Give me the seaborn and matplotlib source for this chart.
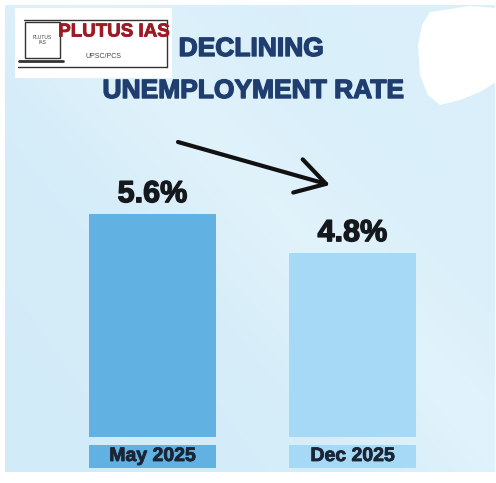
import numpy as np
import pandas as pd
import matplotlib
matplotlib.use("Agg")
import matplotlib.pyplot as plt
import matplotlib.patheffects as pe
import seaborn as sns
from matplotlib.patches import Rectangle, Polygon
from matplotlib.transforms import blended_transform_factory
from matplotlib.colors import to_rgb

# Data
periods = ["May 2025", "Dec 2025"]
rates = [5.6, 4.8]
bar_colors = ["#61b1e3", "#a5d9f5"]
title_lines = ["DECLINING", "UNEMPLOYMENT RATE"]

df = pd.DataFrame({"period": periods, "rate": rates})

sns.set_theme(style="white")
plt.rcParams["font.family"] = ["Liberation Sans", "DejaVu Sans"]

W, H = 496, 483
fig = plt.figure(figsize=(W / 100, H / 100), dpi=100, facecolor="white")


def fx(px):
    return px / W


def fy(py):
    return 1 - py / H


def heavy(color, w=0.9):
    return [pe.withStroke(linewidth=w, foreground=color)]


# Soft light-blue gradient panel behind the chart
bg = fig.add_axes([fx(5), fy(472), fx(490), (472 - 5) / H], zorder=0)
ny, nx = 200, 200
yy, xx = np.mgrid[0:1:complex(ny), 0:1:complex(nx)]
c_dark = np.array(to_rgb("#c9e7f7"))
c_light = np.array(to_rgb("#e6f5fc"))
diag = xx * 0.6 + (1 - yy) * 0.4
band = np.exp(-((xx - yy * 0.9 - 0.15) ** 2) / 0.05)
t = np.clip(0.3 + 0.35 * diag + 0.3 * band, 0, 1)
img = c_dark[None, None, :] * (1 - t[..., None]) + c_light[None, None, :] * t[..., None]
bg.imshow(img, aspect="auto", extent=[0, 1, 0, 1], origin="upper")
bg.set_axis_off()

# Main bar axes
ax = fig.add_axes([fx(5), fy(437), fx(490), (437 - 5) / H], zorder=2)
ax.patch.set_alpha(0)
bar_w = 0.635
sns.barplot(data=df, x="period", y="rate", hue="period", palette=bar_colors,
            legend=False, width=bar_w, saturation=1, linewidth=0,
            edgecolor="none", ax=ax)
ax.set_xlim(-0.7375, 1.7125)
ax.set_ylim(1.026, 9.888)
ax.set_axis_off()

for cont, v in zip(ax.containers, rates):
    ax.bar_label(cont, labels=[f"{v}%"], padding=3.5, fontsize=22,
                 fontweight="bold", color="#15181d",
                 path_effects=heavy("#15181d", 1.0))

# Category label boxes under each bar
trans = blended_transform_factory(ax.transData, fig.transFigure)
for i, (p, c) in enumerate(zip(periods, bar_colors)):
    ax.add_patch(Rectangle((i - bar_w / 2, fy(468)), bar_w, (468 - 445) / H,
                           transform=trans, facecolor=c, edgecolor="none",
                           clip_on=False, zorder=3))
    ax.text(i, fy(456.5), p, transform=trans, ha="center", va="center",
            fontsize=14, fontweight="bold", color="#1b2535", zorder=4,
            path_effects=heavy("#1b2535", 0.6))

# Title
fig.text(fx(251), fy(49), title_lines[0], ha="center", va="center",
         fontsize=19, fontweight="bold", color="#1f3d6e", zorder=5,
         path_effects=heavy("#1f3d6e", 1.0))
fig.text(fx(253), fy(91), title_lines[1], ha="center", va="center",
         fontsize=19, fontweight="bold", color="#1f3d6e", zorder=5,
         path_effects=heavy("#1f3d6e", 1.0))

# Downward trend arrow
ax.annotate("", xy=(fx(330), fy(185)), xytext=(fx(178), fy(142)),
            xycoords="figure fraction", textcoords="figure fraction",
            arrowprops=dict(arrowstyle="->, head_length=1.05, head_width=0.62",
                            color="#111111", lw=3.0, mutation_scale=20,
                            shrinkA=0, shrinkB=0),
            zorder=6, annotation_clip=False)

# White blob top right
blob = [(430, 12), (470, 6), (496, 8), (496, 82), (480, 92), (460, 100),
        (440, 105), (428, 95), (420, 75), (418, 45), (422, 25)]
fig.add_artist(Polygon([(fx(x), fy(y)) for x, y in blob], closed=True,
                       transform=fig.transFigure, facecolor="white",
                       edgecolor="none", zorder=4))

# Logo block
fig.add_artist(Rectangle((fx(15), fy(78)), fx(157), (78 - 8) / H,
                         transform=fig.transFigure, facecolor="white",
                         edgecolor="none", zorder=5))
frame_kw = dict(transform=fig.transFigure, color="#333333", lw=1.0, zorder=6)
fig.add_artist(plt.Line2D([fx(24), fx(167)], [fy(20), fy(20)], **frame_kw))
fig.add_artist(plt.Line2D([fx(167), fx(167)], [fy(20), fy(67)], **frame_kw))
fig.add_artist(plt.Line2D([fx(18), fx(167)], [fy(67), fy(67)], **frame_kw))
fig.add_artist(Rectangle((fx(25), fy(58)), fx(35), (58 - 22) / H,
                         transform=fig.transFigure, facecolor="white",
                         edgecolor="#333333", lw=1.0, zorder=6))
fig.add_artist(plt.Line2D([fx(19), fx(63)], [fy(61), fy(61)],
                          transform=fig.transFigure, color="#333333", lw=2.0,
                          zorder=6))
fig.text(fx(42), fy(40), "PLUTUS\nIAS", ha="center", va="center", fontsize=3.5,
         color="#444444", zorder=7, linespacing=1.0)
fig.text(fx(114), fy(32), "PLUTUS IAS", ha="center", va="center",
         fontsize=13.5, fontweight="bold", color="#9b1b25", zorder=7,
         path_effects=heavy("#9b1b25", 0.6))
fig.text(fx(104), fy(56), "UPSC/PCS", ha="center", va="center", fontsize=5,
         color="#444444", zorder=7)

fig.savefig("out.png", dpi=100, facecolor="white")
